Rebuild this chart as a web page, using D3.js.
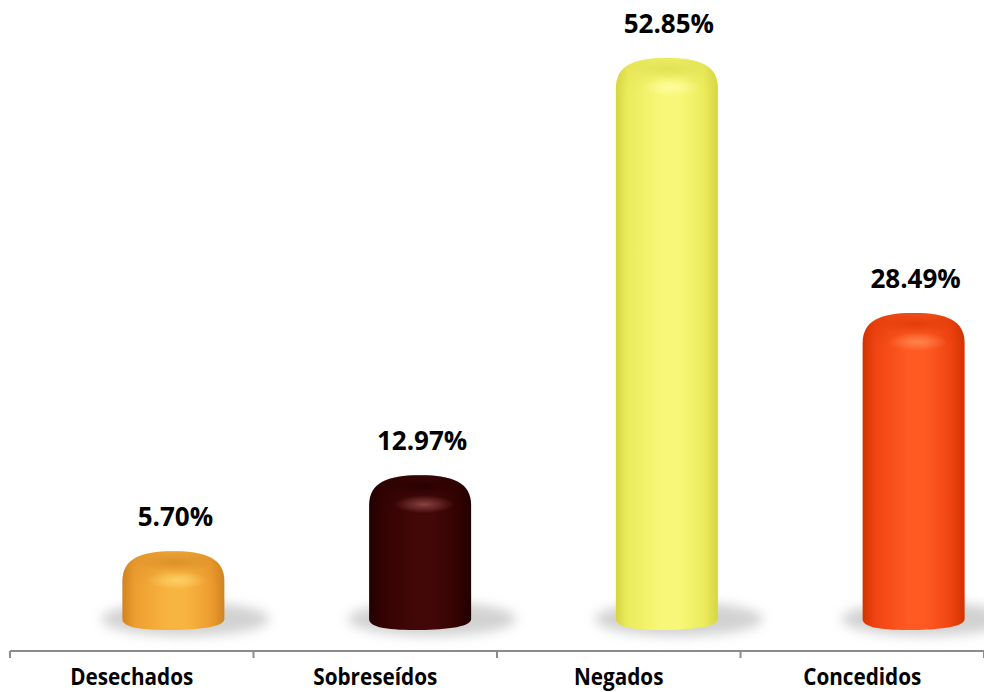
<!DOCTYPE html>
<html>
<head>
<meta charset="utf-8">
<script src="https://cdn.jsdelivr.net/npm/d3@7"></script>
<style>
  html, body { margin: 0; padding: 0; background: #ffffff; }
  svg { display: block; }
</style>
</head>
<body>
<script>
// ---- data ----
const categories = ["Desechados", "Sobreseídos", "Negados", "Concedidos"];
const values = [5.70, 12.97, 52.85, 28.49];
const valueLabels = ["5.70%", "12.97%", "52.85%", "28.49%"];

// ---- styling (not data) ----
const palettes = [
  { dark: "#d08420", mid: "#ee9e30", light: "#f8b440", top: "#dc8e26", spot: "#ffd870" },
  { dark: "#220000", mid: "#340202", light: "#420808", top: "#2a0000", spot: "#9a5050" },
  { dark: "#d6d642", mid: "#ecec5e", light: "#f8f878", top: "#e0e052", spot: "#ffffa8" },
  { dark: "#d03400", mid: "#f04412", light: "#ff5a22", top: "#e23c0a", spot: "#ff9058" }
];

const W = 984, H = 692;
const svg = d3.select("body").append("svg").attr("width", W).attr("height", H);
const defs = svg.append("defs");

const x = d3.scaleBand().domain(categories).range([10, 984]).padding(0);
const xBar = d3.scaleBand().domain(categories).range([50, 1037]).padding(0);
const y = d3.scaleLinear().domain([0, 52.85]).range([611, 58]);

const baseY = 630;
const barW = 102;

const f = defs.append("filter").attr("id", "blur").attr("x", "-50%").attr("y", "-100%").attr("width", "200%").attr("height", "300%");
f.append("feGaussianBlur").attr("stdDeviation", 6);

palettes.forEach((p, i) => {
  const g = defs.append("linearGradient").attr("id", "body" + i)
    .attr("x1", "0%").attr("x2", "100%").attr("y1", "0%").attr("y2", "0%");
  [[0, p.dark], [0.12, p.mid], [0.45, p.light], [0.62, p.light], [0.86, p.mid], [1, p.dark]]
    .forEach(([o, c]) => g.append("stop").attr("offset", o).attr("stop-color", c));
  const r = defs.append("radialGradient").attr("id", "spot" + i);
  r.append("stop").attr("offset", 0).attr("stop-color", p.spot).attr("stop-opacity", 0.8);
  r.append("stop").attr("offset", 1).attr("stop-color", p.spot).attr("stop-opacity", 0);
  const t = defs.append("radialGradient").attr("id", "topf" + i);
  t.append("stop").attr("offset", 0).attr("stop-color", p.top).attr("stop-opacity", 0.95);
  t.append("stop").attr("offset", 1).attr("stop-color", p.top).attr("stop-opacity", 0);
  const v = defs.append("linearGradient").attr("id", "dome" + i)
    .attr("x1", "0%").attr("x2", "0%").attr("y1", "0%").attr("y2", "100%");
  v.append("stop").attr("offset", 0).attr("stop-color", p.dark).attr("stop-opacity", 0.4);
  v.append("stop").attr("offset", 1).attr("stop-color", p.dark).attr("stop-opacity", 0);
});

function cylPath(cx, w, yt, yb) {
  const x0 = cx - w / 2, x1 = cx + w / 2, ry = 11, r = 30;
  const p = d3.path();
  p.moveTo(x0, yb - ry);
  p.lineTo(x0, yt + r);
  p.bezierCurveTo(x0, yt + r * 0.25, x0 + w * 0.18, yt, cx, yt);
  p.bezierCurveTo(x1 - w * 0.18, yt, x1, yt + r * 0.25, x1, yt + r);
  p.lineTo(x1, yb - ry);
  p.bezierCurveTo(x1, yb - ry * 0.2, x1 - w * 0.3, yb, cx - w * 0.05, yb);
  p.bezierCurveTo(x0 + w * 0.15, yb, x0, yb - ry * 0.3, x0, yb - ry);
  p.closePath();
  return p.toString();
}

// shadows
svg.append("g").selectAll("ellipse").data(categories).join("ellipse")
  .attr("cx", d => xBar(d) + xBar.bandwidth() / 2 + 12)
  .attr("cy", 619)
  .attr("rx", 84)
  .attr("ry", 17)
  .attr("fill", "#b4b4b4")
  .attr("opacity", 0.6)
  .attr("filter", "url(#blur)");

// bars
const bars = svg.append("g").selectAll("g").data(categories).join("g");
bars.append("path")
  .attr("d", (d, i) => cylPath(xBar(d) + xBar.bandwidth() / 2, barW, y(values[i]), baseY))
  .attr("fill", (d, i) => `url(#body${i})`);
bars.append("path")
  .attr("d", (d, i) => {
    const cx = xBar(d) + xBar.bandwidth() / 2, yt = y(values[i]);
    const x0 = cx - barW / 2, x1 = cx + barW / 2;
    return `M${x0},${yt + 34} L${x0},${yt + 30} C${x0},${yt + 7} ${x0 + barW * 0.18},${yt} ${cx},${yt} C${x1 - barW * 0.18},${yt} ${x1},${yt + 7} ${x1},${yt + 30} L${x1},${yt + 34} Z`;
  })
  .attr("fill", (d, i) => `url(#dome${i})`);
bars.append("ellipse")
  .attr("cx", d => xBar(d) + xBar.bandwidth() / 2 + 2)
  .attr("cy", (d, i) => y(values[i]) + 11)
  .attr("rx", barW * 0.38)
  .attr("ry", 10)
  .attr("fill", (d, i) => `url(#topf${i})`);
bars.append("ellipse")
  .attr("cx", d => xBar(d) + xBar.bandwidth() / 2 + 4)
  .attr("cy", (d, i) => y(values[i]) + 29)
  .attr("rx", 30)
  .attr("ry", 9)
  .attr("fill", (d, i) => `url(#spot${i})`);

// value labels
svg.append("g").selectAll("text").data(categories).join("text")
  .attr("x", d => xBar(d) + xBar.bandwidth() / 2 + 2)
  .attr("y", (d, i) => y(values[i]) - 25)
  .attr("text-anchor", "middle")
  .attr("font-family", "'Open Sans', 'Noto Sans', sans-serif")
  .attr("font-weight", "bold")
  .attr("font-size", 26)
  .attr("fill", "#000")
  .text((d, i) => valueLabels[i]);

// axis
const axisY = 651;
const ax = svg.append("g");
ax.append("line").attr("x1", 10).attr("x2", 984).attr("y1", axisY).attr("y2", axisY)
  .attr("stroke", "#8c8c8c").attr("stroke-width", 2);
const tickXs = categories.map(c => x(c)).concat([x.range()[1]]);
ax.selectAll("line.tick").data(tickXs).join("line").attr("class", "tick")
  .attr("x1", d => d).attr("x2", d => d).attr("y1", axisY).attr("y2", axisY + 7)
  .attr("stroke", "#8c8c8c").attr("stroke-width", 2);

ax.selectAll("text").data(categories).join("text")
  .attr("transform", d => `translate(${x(d) + x.bandwidth() / 2},685) scale(0.9,1)`)
  .attr("text-anchor", "middle")
  .attr("font-family", "'Open Sans', 'Noto Sans', sans-serif")
  .attr("font-weight", "bold")
  .attr("font-size", 23)
  .attr("fill", "#000")
  .text(d => d);
</script>
</body>
</html>
